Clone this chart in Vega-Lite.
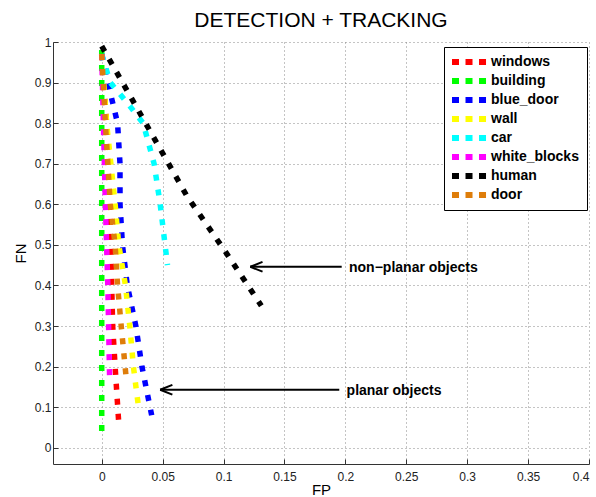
{
  "$schema": "https://vega.github.io/schema/vega-lite/v6.json",
  "autosize": {"type": "none"},
  "padding": {"left": 53, "top": 42, "right": 7, "bottom": 33},
  "width": 536,
  "height": 422,
  "background": "white",
  "title": {"text": "DETECTION + TRACKING", "font": "Liberation Sans", "fontSize": 21, "fontWeight": "normal", "color": "black", "anchor": "middle", "offset": 4},
  "config": {
    "view": {"stroke": null},
    "axis": {
      "labelFont": "Liberation Sans", "labelFontSize": 12, "labelColor": "#222",
      "titleFont": "Liberation Sans", "titleFontSize": 15, "titleFontWeight": "normal", "titleColor": "black",
      "domainColor": "#333", "tickColor": "#333", "tickSize": -5,
      "gridColor": "#888", "gridDash": [1, 3], "gridWidth": 1, "gridOpacity": 1
    }
  },
  "datasets": {
    "curves": [
      {"series": "windows", "ord": 1, "fp": 0.0, "fn": 0.97},
      {"series": "windows", "ord": 2, "fp": 0.004, "fn": 0.8},
      {"series": "windows", "ord": 3, "fp": 0.0065, "fn": 0.6},
      {"series": "windows", "ord": 4, "fp": 0.009, "fn": 0.3},
      {"series": "windows", "ord": 5, "fp": 0.011, "fn": 0.2},
      {"series": "windows", "ord": 6, "fp": 0.014, "fn": 0.06},
      {"series": "building", "ord": 1, "fp": 0.0, "fn": 0.98},
      {"series": "building", "ord": 2, "fp": 0.0, "fn": 0.02},
      {"series": "blue_door", "ord": 1, "fp": 0.0, "fn": 0.97},
      {"series": "blue_door", "ord": 2, "fp": 0.005, "fn": 0.9},
      {"series": "blue_door", "ord": 3, "fp": 0.013, "fn": 0.8},
      {"series": "blue_door", "ord": 4, "fp": 0.015, "fn": 0.7},
      {"series": "blue_door", "ord": 5, "fp": 0.015, "fn": 0.6},
      {"series": "blue_door", "ord": 6, "fp": 0.017, "fn": 0.5},
      {"series": "blue_door", "ord": 7, "fp": 0.021, "fn": 0.4},
      {"series": "blue_door", "ord": 8, "fp": 0.028, "fn": 0.3},
      {"series": "blue_door", "ord": 9, "fp": 0.033, "fn": 0.2},
      {"series": "blue_door", "ord": 10, "fp": 0.041, "fn": 0.08},
      {"series": "wall", "ord": 1, "fp": 0.0, "fn": 0.97},
      {"series": "wall", "ord": 2, "fp": 0.004, "fn": 0.8},
      {"series": "wall", "ord": 3, "fp": 0.011, "fn": 0.6},
      {"series": "wall", "ord": 4, "fp": 0.014, "fn": 0.5},
      {"series": "wall", "ord": 5, "fp": 0.0195, "fn": 0.4},
      {"series": "wall", "ord": 6, "fp": 0.023, "fn": 0.3},
      {"series": "wall", "ord": 7, "fp": 0.026, "fn": 0.2},
      {"series": "wall", "ord": 8, "fp": 0.03, "fn": 0.105},
      {"series": "car", "ord": 1, "fp": 0.0, "fn": 0.97},
      {"series": "car", "ord": 2, "fp": 0.007, "fn": 0.9},
      {"series": "car", "ord": 3, "fp": 0.021, "fn": 0.85},
      {"series": "car", "ord": 4, "fp": 0.034, "fn": 0.8},
      {"series": "car", "ord": 5, "fp": 0.043, "fn": 0.7},
      {"series": "car", "ord": 6, "fp": 0.048, "fn": 0.6},
      {"series": "car", "ord": 7, "fp": 0.054, "fn": 0.45},
      {"series": "white_blocks", "ord": 1, "fp": 0.0, "fn": 0.97},
      {"series": "white_blocks", "ord": 2, "fp": 0.003, "fn": 0.6},
      {"series": "white_blocks", "ord": 3, "fp": 0.005, "fn": 0.4},
      {"series": "white_blocks", "ord": 4, "fp": 0.0065, "fn": 0.17},
      {"series": "human", "ord": 1, "fp": 0.0, "fn": 0.99},
      {"series": "human", "ord": 2, "fp": 0.036, "fn": 0.8},
      {"series": "human", "ord": 3, "fp": 0.07, "fn": 0.62},
      {"series": "human", "ord": 4, "fp": 0.1, "fn": 0.49},
      {"series": "human", "ord": 5, "fp": 0.131, "fn": 0.35},
      {"series": "door", "ord": 1, "fp": 0.0, "fn": 0.97},
      {"series": "door", "ord": 2, "fp": 0.003, "fn": 0.8},
      {"series": "door", "ord": 3, "fp": 0.007, "fn": 0.6},
      {"series": "door", "ord": 4, "fp": 0.011, "fn": 0.5},
      {"series": "door", "ord": 5, "fp": 0.013, "fn": 0.4},
      {"series": "door", "ord": 6, "fp": 0.016, "fn": 0.3},
      {"series": "door", "ord": 7, "fp": 0.02, "fn": 0.175}
    ],
    "arrows": [
      {"x": 0.197, "y": 0.446, "x2": 0.122, "y2": 0.446},
      {"x": 0.122, "y": 0.446, "x2": 0.132, "y2": 0.458},
      {"x": 0.122, "y": 0.446, "x2": 0.132, "y2": 0.434},
      {"x": 0.195, "y": 0.143, "x2": 0.048, "y2": 0.143},
      {"x": 0.048, "y": 0.143, "x2": 0.058, "y2": 0.155},
      {"x": 0.048, "y": 0.143, "x2": 0.058, "y2": 0.131}
    ],
    "notes": [
      {"x": 0.203, "y": 0.443, "label": "non−planar objects"},
      {"x": 0.201, "y": 0.14, "label": "planar objects"}
    ]
  },
  "layer": [
    {
      "data": {"name": "curves"},
      "mark": {"type": "line", "strokeWidth": 5.5, "strokeDash": [6, 9], "strokeCap": "butt"},
      "encoding": {
        "x": {"field": "fp", "type": "quantitative", "title": "FP",
              "scale": {"domain": [-0.04, 0.4], "nice": false, "zero": false},
              "axis": {"values": [0, 0.05, 0.1, 0.15, 0.2, 0.25, 0.3, 0.35, 0.4], "format": "~g", "labelPadding": 12, "titlePadding": 0}},
        "y": {"field": "fn", "type": "quantitative", "title": "FN",
              "scale": {"domain": [-0.04, 1], "nice": false, "zero": false},
              "axis": {"values": [0, 0.1, 0.2, 0.3, 0.4, 0.5, 0.6, 0.7, 0.8, 0.9, 1], "format": "~g", "labelPadding": 7, "titlePadding": 6}},
        "color": {"field": "series", "type": "nominal",
                  "scale": {"domain": ["windows", "building", "blue_door", "wall", "car", "white_blocks", "human", "door"],
                            "range": ["#ff0000", "#00ff00", "#0000ff", "#ffff00", "#00ffff", "#ff00ff", "#000000", "#de7d0a"]},
                  "legend": {"title": null, "orient": "none", "legendX": 391, "legendY": 5,
                             "symbolType": "M-1,-0.43H0V0.43H-1Z M0.93,-0.43H1.93V0.43H0.93Z M2.86,-0.43H3.86V0.43H2.86Z",
                             "symbolSize": 196, "symbolStrokeWidth": 0,
                             "labelFont": "Liberation Sans", "labelFontSize": 14, "labelFontWeight": "bold", "labelColor": "black",
                             "labelOffset": 25, "rowPadding": 5,
                             "strokeColor": "black", "fillColor": "white", "padding": 8, "cornerRadius": 0,
                             "encode": {"symbols": {"update": {"fill": {"scale": "color", "field": "value"}, "fillOpacity": {"value": 1}, "strokeDash": {"value": []}}}}}},
        "order": {"field": "ord", "type": "quantitative"}
      }
    },
    {
      "data": {"name": "arrows"},
      "mark": {"type": "rule", "color": "black", "strokeWidth": 2},
      "encoding": {
        "x": {"field": "x", "type": "quantitative"},
        "y": {"field": "y", "type": "quantitative"},
        "x2": {"field": "x2"},
        "y2": {"field": "y2"}
      }
    },
    {
      "data": {"name": "notes"},
      "mark": {"type": "text", "align": "left", "baseline": "middle", "font": "Liberation Sans", "fontSize": 14, "fontWeight": "bold", "color": "black"},
      "encoding": {
        "x": {"field": "x", "type": "quantitative"},
        "y": {"field": "y", "type": "quantitative"},
        "text": {"field": "label"}
      }
    }
  ]
}
